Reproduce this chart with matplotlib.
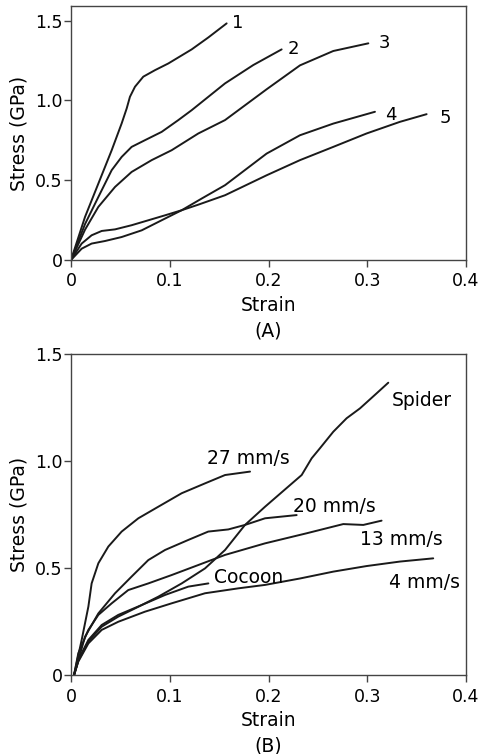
import numpy as np
import matplotlib
matplotlib.use("Agg")
import matplotlib.pyplot as plt

plt.rcParams['font.family'] = ['DejaVu Sans']
plt.rcParams['font.size'] = 12.5

# ---- panel A: numbered fibres ----
a_x1 = [0, 0.0142, 0.0277, 0.0412, 0.0513, 0.0564, 0.0597, 0.0648, 0.0732, 0.0851, 0.0986, 0.1222, 0.1391, 0.1576]
a_y1 = [0, 0.27, 0.479, 0.688, 0.856, 0.95, 1.023, 1.086, 1.149, 1.19, 1.232, 1.32, 1.395, 1.483]

a_x2 = [0, 0.0142, 0.0277, 0.0412, 0.0513, 0.0614, 0.0749, 0.0918, 0.1087, 0.1222, 0.1391, 0.156, 0.1846, 0.2133]
a_y2 = [0, 0.225, 0.395, 0.563, 0.646, 0.709, 0.751, 0.803, 0.877, 0.939, 1.023, 1.107, 1.222, 1.32]

a_x3 = [0, 0.0142, 0.0277, 0.0446, 0.0614, 0.0817, 0.1019, 0.1289, 0.156, 0.1981, 0.2319, 0.2656, 0.3011]
a_y3 = [0, 0.19, 0.333, 0.458, 0.552, 0.626, 0.688, 0.793, 0.877, 1.07, 1.22, 1.31, 1.358]

a_x4 = [0, 0.0108, 0.0209, 0.0344, 0.0513, 0.0716, 0.0918, 0.1121, 0.1323, 0.156, 0.1981, 0.2319, 0.2656, 0.3078]
a_y4 = [0, 0.071, 0.103, 0.119, 0.144, 0.186, 0.249, 0.312, 0.385, 0.469, 0.667, 0.782, 0.855, 0.929]

a_x5 = [0, 0.0108, 0.0209, 0.0311, 0.0446, 0.0614, 0.0783, 0.0952, 0.1121, 0.129, 0.156, 0.1981, 0.2319, 0.2656, 0.2993, 0.3331, 0.3601]
a_y5 = [0, 0.103, 0.155, 0.182, 0.192, 0.218, 0.249, 0.28, 0.312, 0.347, 0.406, 0.531, 0.626, 0.709, 0.793, 0.866, 0.914]

a_labels = ['1', '2', '3', '4', '5']
a_label_x = [0.1684, 0.2251, 0.317, 0.3237, 0.3787]
a_label_y = [1.483, 1.32, 1.358, 0.908, 0.887]

# ---- panel B: reeling speeds, cocoon, spider ----
b_x27 = [0.003, 0.0108, 0.0176, 0.0209, 0.0277, 0.0378, 0.0513, 0.0682, 0.0884, 0.1121, 0.1357, 0.156, 0.1813]
b_y27 = [0, 0.165, 0.321, 0.429, 0.523, 0.601, 0.671, 0.733, 0.787, 0.85, 0.896, 0.935, 0.951]

b_x20 = [0.003, 0.0142, 0.0277, 0.0446, 0.0614, 0.0783, 0.0952, 0.1188, 0.139, 0.1593, 0.1762, 0.1965, 0.2285]
b_y20 = [0, 0.18, 0.289, 0.383, 0.461, 0.538, 0.585, 0.632, 0.671, 0.681, 0.702, 0.733, 0.748]

b_x13 = [0.003, 0.0074, 0.0176, 0.0277, 0.0412, 0.058, 0.0783, 0.1019, 0.129, 0.156, 0.1965, 0.2386, 0.2757, 0.296, 0.3145]
b_y13 = [0, 0.103, 0.212, 0.282, 0.336, 0.398, 0.429, 0.468, 0.515, 0.562, 0.616, 0.663, 0.706, 0.702, 0.722]

b_x4 = [0.003, 0.0074, 0.0176, 0.0311, 0.0479, 0.0749, 0.1019, 0.1357, 0.1695, 0.1965, 0.2319, 0.2656, 0.2993, 0.3331, 0.3668]
b_y4 = [0, 0.064, 0.149, 0.212, 0.25, 0.297, 0.336, 0.383, 0.406, 0.422, 0.452, 0.484, 0.51, 0.531, 0.546]

b_xc = [0.003, 0.0074, 0.0176, 0.0311, 0.0479, 0.0716, 0.0952, 0.1188, 0.1391]
b_yc = [0, 0.072, 0.165, 0.235, 0.282, 0.328, 0.375, 0.414, 0.429]

b_xs = [0.003, 0.0074, 0.0176, 0.0311, 0.0479, 0.0682, 0.0884, 0.1121, 0.1357, 0.156, 0.1762, 0.1965, 0.2218,
        0.2336, 0.2437, 0.2521, 0.2656, 0.2791, 0.2926, 0.3094, 0.3213]
b_ys = [0, 0.068, 0.158, 0.227, 0.274, 0.32, 0.367, 0.429, 0.499, 0.585, 0.702, 0.787, 0.888,
        0.935, 1.013, 1.06, 1.137, 1.2, 1.246, 1.316, 1.366]

b_labels = ['Spider', '27 mm/s', '20 mm/s', '13 mm/s', 'Cocoon', '4 mm/s']
b_label_x = [0.355, 0.1796, 0.2667, 0.3348, 0.1796, 0.3584]
b_label_y = [1.285, 1.013, 0.79, 0.636, 0.456, 0.434]

x_ticks = [0, 0.1, 0.2, 0.3, 0.4]
x_ticklabels = ['0', '0.1', '0.2', '0.3', '0.4']
y_ticks = [0, 0.5, 1.0, 1.5]
y_ticklabels = ['0', '0.5', '1.0', '1.5']

W, H = 482, 754
fig = plt.figure(figsize=(W / 100, H / 100), dpi=100)
ax_a = fig.add_axes([71 / W, 1 - 260 / H, 395 / W, 254 / H])
ax_b = fig.add_axes([71 / W, 1 - 675.3 / H, 395 / W, 321.3 / H])

line_kw = dict(color='#1a1a1a', lw=1.4, solid_capstyle='round', solid_joinstyle='round')


def style(ax, ytop, tag):
    ax.set_xlim(0, 0.4)
    ax.set_ylim(0, ytop)
    ax.set_xticks(x_ticks)
    ax.set_xticklabels(x_ticklabels)
    ax.set_yticks(y_ticks)
    ax.set_yticklabels(y_ticklabels)
    for s in ax.spines.values():
        s.set_color('#444444')
        s.set_linewidth(1.0)
    ax.tick_params(direction='out', length=5, width=1.0, color='#444444', labelsize=12.5)
    ax.tick_params(axis='y', pad=1)
    ax.tick_params(axis='x', pad=4)
    ax.set_ylabel('Stress (GPa)', fontsize=13.5, labelpad=5)
    ax.set_xlabel('Strain\n' + tag, fontsize=13.5, linespacing=1.4, labelpad=4)


ax_a.plot(a_x1, a_y1, **line_kw)
ax_a.plot(a_x2, a_y2, **line_kw)
ax_a.plot(a_x3, a_y3, **line_kw)
ax_a.plot(a_x4, a_y4, **line_kw)
ax_a.plot(a_x5, a_y5, **line_kw)
for t, x, y in zip(a_labels, a_label_x, a_label_y):
    ax_a.text(x, y, t, ha='center', va='center', fontsize=13)
style(ax_a, 1.592, '(A)')

ax_b.plot(b_x27, b_y27, **line_kw)
ax_b.plot(b_x20, b_y20, **line_kw)
ax_b.plot(b_x13, b_y13, **line_kw)
ax_b.plot(b_x4, b_y4, **line_kw)
ax_b.plot(b_xc, b_yc, **line_kw)
ax_b.plot(b_xs, b_ys, **line_kw)
for t, x, y in zip(b_labels, b_label_x, b_label_y):
    ax_b.text(x, y, t, ha='center', va='center', fontsize=13.5)
style(ax_b, 1.5, '(B)')

fig.savefig('out.png', dpi=100, facecolor='white')
